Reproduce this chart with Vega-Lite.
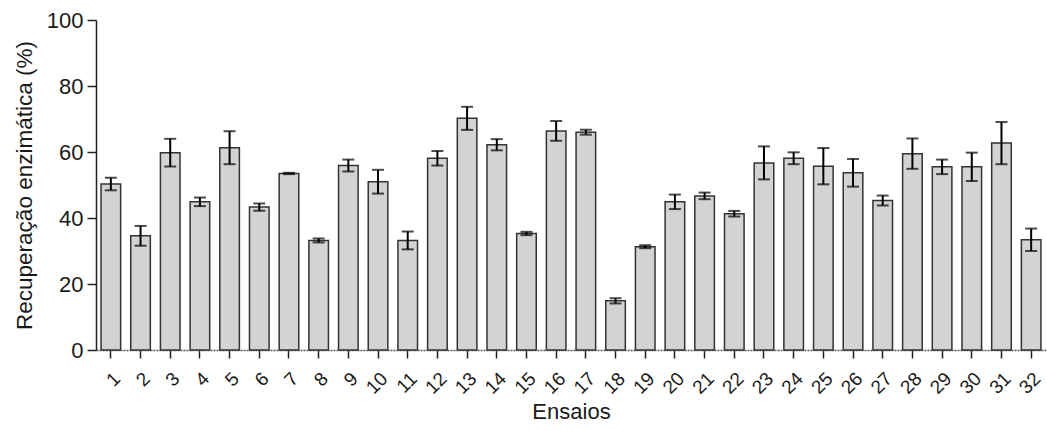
{
  "$schema": "https://vega.github.io/schema/vega-lite/v6.json",
  "width": 950,
  "height": 330,
  "autosize": {"type": "none"},
  "padding": {"left": 96, "top": 20, "right": 1, "bottom": 81},
  "background": "white",
  "config": {
    "view": {"stroke": null},
    "font": "Liberation Sans",
    "axis": {"labelFont": "Liberation Sans", "titleFont": "Liberation Sans", "labelColor": "#1a1a1a", "titleColor": "#1a1a1a", "titleFontWeight": "normal", "grid": false}
  },
  "data": {"values": [
    {"ensaio": 1, "media": 50.3, "lo": 48.4, "hi": 52.2},
    {"ensaio": 2, "media": 34.6, "lo": 31.6, "hi": 37.6},
    {"ensaio": 3, "media": 59.8, "lo": 55.6, "hi": 64.0},
    {"ensaio": 4, "media": 44.9, "lo": 43.6, "hi": 46.2},
    {"ensaio": 5, "media": 61.3, "lo": 56.3, "hi": 66.3},
    {"ensaio": 6, "media": 43.3, "lo": 42.2, "hi": 44.4},
    {"ensaio": 7, "media": 53.5, "lo": 53.3, "hi": 53.7},
    {"ensaio": 8, "media": 33.2, "lo": 32.6, "hi": 33.8},
    {"ensaio": 9, "media": 55.9, "lo": 54.1, "hi": 57.7},
    {"ensaio": 10, "media": 51.0, "lo": 47.4, "hi": 54.6},
    {"ensaio": 11, "media": 33.2, "lo": 30.5, "hi": 35.9},
    {"ensaio": 12, "media": 58.1, "lo": 55.9, "hi": 60.3},
    {"ensaio": 13, "media": 70.2, "lo": 66.7, "hi": 73.7},
    {"ensaio": 14, "media": 62.2, "lo": 60.5, "hi": 63.9},
    {"ensaio": 15, "media": 35.3, "lo": 34.8, "hi": 35.8},
    {"ensaio": 16, "media": 66.4, "lo": 63.4, "hi": 69.4},
    {"ensaio": 17, "media": 66.0, "lo": 65.25, "hi": 66.75},
    {"ensaio": 18, "media": 14.9, "lo": 14.1, "hi": 15.7},
    {"ensaio": 19, "media": 31.3, "lo": 30.85, "hi": 31.75},
    {"ensaio": 20, "media": 44.9, "lo": 42.7, "hi": 47.1},
    {"ensaio": 21, "media": 46.7, "lo": 45.7, "hi": 47.7},
    {"ensaio": 22, "media": 41.3, "lo": 40.45, "hi": 42.15},
    {"ensaio": 23, "media": 56.7, "lo": 51.7, "hi": 61.7},
    {"ensaio": 24, "media": 58.1, "lo": 56.3, "hi": 59.9},
    {"ensaio": 25, "media": 55.7, "lo": 50.2, "hi": 61.2},
    {"ensaio": 26, "media": 53.7, "lo": 49.5, "hi": 57.9},
    {"ensaio": 27, "media": 45.3, "lo": 43.8, "hi": 46.8},
    {"ensaio": 28, "media": 59.5, "lo": 54.9, "hi": 64.1},
    {"ensaio": 29, "media": 55.5, "lo": 53.3, "hi": 57.7},
    {"ensaio": 30, "media": 55.5, "lo": 51.2, "hi": 59.8},
    {"ensaio": 31, "media": 62.7, "lo": 56.3, "hi": 69.1},
    {"ensaio": 32, "media": 33.4, "lo": 30.0, "hi": 36.8}
  ]},
  "encoding": {
    "x": {
      "field": "ensaio", "type": "ordinal",
      "scale": {"paddingInner": 0.34, "paddingOuter": 0.17},
      "axis": {
        "title": "Ensaios", "titleFontSize": 22, "titlePadding": 4,
        "labelAngle": -45, "labelFontSize": 19, "labelPadding": 11,
        "tickSize": 8, "tickWidth": 1.5, "tickColor": "#222",
        "domainColor": "#555", "domainWidth": 1.5, "domainDash": [2, 1]
      }
    }
  },
  "layer": [
    {
      "mark": {"type": "bar", "fill": "#d3d3d3", "stroke": "#333333", "strokeWidth": 1.5},
      "encoding": {
        "y": {
          "field": "media", "type": "quantitative",
          "scale": {"domain": [0, 100], "nice": false},
          "axis": {
            "title": "Recuperação enzimática (%)", "titleFontSize": 22.5, "titlePadding": 10,
            "values": [0, 20, 40, 60, 80, 100], "labelFontSize": 22, "labelPadding": 4,
            "tickSize": 9, "tickWidth": 1.5, "tickColor": "#222",
            "domainColor": "#222", "domainWidth": 1.5
          }
        }
      }
    },
    {
      "mark": {"type": "rule", "color": "black", "strokeWidth": 2},
      "encoding": {
        "y": {"field": "lo", "type": "quantitative"},
        "y2": {"field": "hi"}
      }
    },
    {
      "mark": {"type": "tick", "color": "black", "thickness": 2, "size": 12, "orient": "horizontal"},
      "encoding": {"y": {"field": "lo", "type": "quantitative"}}
    },
    {
      "mark": {"type": "tick", "color": "black", "thickness": 2, "size": 12, "orient": "horizontal"},
      "encoding": {"y": {"field": "hi", "type": "quantitative"}}
    }
  ]
}
